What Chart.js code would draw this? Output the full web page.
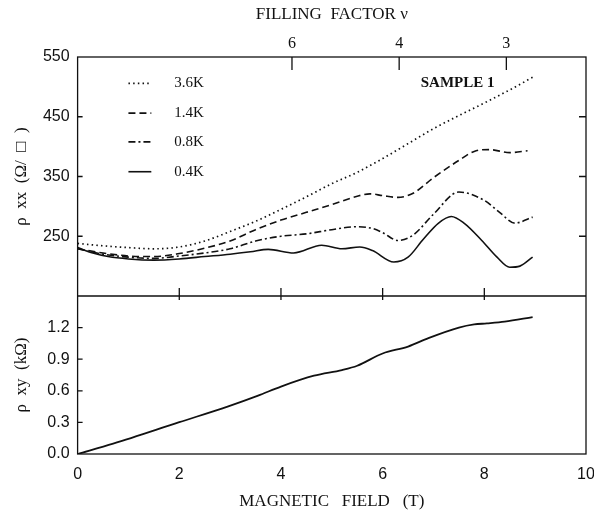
<!DOCTYPE html>
<html>
<head>
<meta charset="utf-8">
<script src="https://cdn.jsdelivr.net/npm/chart.js@4.4.0/dist/chart.umd.min.js"></script>
<style>
  body { margin: 0; background: #fff; }
  #wrap { width: 594px; height: 516px; }
</style>
</head>
<body>
<div id="wrap"><canvas id="chart" width="594" height="516"></canvas></div>
<script>
// rho_xx traces, magnetic field (T) and resistance (ohm/square)
const field36 = [0, 0.5, 1.0, 1.5, 2.0, 2.5, 3.0, 3.5, 4.0, 4.5, 5.0, 5.5, 6.0, 6.5, 7.0, 7.5, 8.0, 8.5, 8.95];
const rho36   = [238, 234, 231, 229, 232, 242, 258, 275, 295, 316, 338, 357, 380, 405, 430, 452, 473, 495, 516];

const field14 = [0, 0.5, 1.0, 1.5, 2.0, 2.5, 3.0, 3.5, 4.0, 4.5, 5.0, 5.5, 5.75, 6.0, 6.3, 6.6, 7.0, 7.5, 7.8, 8.1, 8.5, 8.85];
const rho14   = [229, 222, 217, 216, 221, 230, 242, 261, 277, 290, 303, 317, 321, 318, 315, 322, 348, 377, 392, 395, 390, 393];

const field08 = [0, 0.5, 1.0, 1.5, 2.0, 2.5, 3.0, 3.5, 4.0, 4.5, 5.0, 5.5, 5.8, 6.0, 6.3, 6.6, 7.0, 7.5, 8.0, 8.3, 8.6, 8.95];
const rho08   = [229, 220, 215, 213, 217, 222, 229, 242, 250, 254, 261, 266, 263, 256, 243, 252, 287, 324, 310, 290, 272, 282];

const field04 = [0, 0.3, 0.6, 1.0, 1.5, 2.0, 2.5, 3.0, 3.4, 3.75, 4.25, 4.8, 5.2, 5.55, 5.8, 6.22, 6.5, 6.8, 7.1, 7.35, 7.6, 7.95, 8.25, 8.5, 8.7, 8.95];
const rho04   = [231, 222, 216, 212, 210, 212, 216, 220, 224, 228, 222, 235, 229, 232, 226, 207, 215, 245, 272, 283, 272, 243, 215, 198, 200, 215];

// rho_xy (kohm)
const fieldXY = [0, 0.7, 2.0, 2.95, 3.55, 4.0, 4.65, 5.2, 5.5, 6.0, 6.5, 6.9, 7.5, 7.8, 8.05, 8.4, 8.95];
const rhoXY   = [0, 0.098, 0.302, 0.45, 0.554, 0.64, 0.743, 0.797, 0.838, 0.954, 1.02, 1.10, 1.2, 1.23, 1.24, 1.257, 1.30];

const tempLabels = ['3.6K', '1.4K', '0.8K', '0.4K'];
const fieldTicks = [0, 2, 4, 6, 8, 10];
const rhoxxTicks = [250, 350, 450, 550];
const rhoxyTicks = [0.0, 0.3, 0.6, 0.9, 1.2];
const nuTicks = [6, 4, 3];
const nuField = 25.3;   // B * nu

const serif = "'Liberation Serif', 'DejaVu Serif', serif";
const sans = "'Liberation Sans', Arial, sans-serif";
const ink = '#111';

function pts(xs, ys) {
  return xs.map((x, i) => ({ x: x, y: ys[i] }));
}

const dashes = [[1.5, 3.2], [7, 4], [7, 3, 2, 3], []];
const noGrid = { display: false, drawTicks: false, tickLength: 0 };

const frame = {
  id: 'frame',
  afterDatasetsDraw(chart) {
    const ctx = chart.ctx;
    const a = chart.chartArea;
    const x = chart.scales.x;
    const yt = chart.scales.yTop;
    const yb = chart.scales.yBot;
    const mid = yt.bottom;
    ctx.save();
    ctx.strokeStyle = ink;
    ctx.lineWidth = 1.3;
    ctx.setLineDash([]);
    ctx.strokeRect(a.left, a.top, a.right - a.left, a.bottom - a.top);
    ctx.beginPath();
    ctx.moveTo(a.left, mid); ctx.lineTo(a.right, mid);
    // y ticks, inside
    rhoxxTicks.slice(0, 3).forEach(v => {
      const p = yt.getPixelForValue(v);
      ctx.moveTo(a.left, p); ctx.lineTo(a.left + 5, p);
      ctx.moveTo(a.right, p); ctx.lineTo(a.right - 7, p);
    });
    rhoxyTicks.slice(1).forEach(v => {
      const p = yb.getPixelForValue(v);
      ctx.moveTo(a.left, p); ctx.lineTo(a.left + 5, p);
    });
    // field ticks on the divider
    fieldTicks.slice(1, 5).forEach(v => {
      const p = x.getPixelForValue(v);
      ctx.moveTo(p, mid - 8); ctx.lineTo(p, mid + 4);
    });
    // filling factor ticks
    nuTicks.forEach(n => {
      const p = x.getPixelForValue(nuField / n);
      ctx.moveTo(p, a.top); ctx.lineTo(p, a.top + 13);
    });
    ctx.stroke();

    // legend
    ctx.fillStyle = ink;
    ctx.font = '15px ' + serif;
    ctx.textBaseline = 'middle';
    const legVals = [506, 456, 408, 358];
    chart.data.datasets.slice(0, 4).forEach((ds, i) => {
      const py = yt.getPixelForValue(legVals[i]);
      ctx.beginPath();
      ctx.lineWidth = ds.borderWidth;
      ctx.setLineDash(ds.borderDash);
      ctx.moveTo(x.getPixelForValue(1.0), py);
      ctx.lineTo(x.getPixelForValue(1.45), py);
      ctx.stroke();
      ctx.fillText(ds.label, x.getPixelForValue(1.9), py);
    });
    ctx.setLineDash([]);
    ctx.font = 'bold 15px ' + serif;
    ctx.textAlign = 'right';
    ctx.fillText('SAMPLE 1', x.getPixelForValue(8.2), yt.getPixelForValue(506));
    ctx.restore();
  }
};

const topSets = [rho36, rho14, rho08, rho04].map((ys, i) => ({
  label: tempLabels[i],
  data: pts([field36, field14, field08, field04][i], ys),
  yAxisID: 'yTop',
  borderColor: ink,
  borderWidth: i === 0 ? 1.7 : 1.6,
  borderDash: dashes[i],
  pointRadius: 0,
  cubicInterpolationMode: 'monotone',
  fill: false
}));

new Chart(document.getElementById('chart'), {
  type: 'line',
  data: {
    datasets: topSets.concat([{
      label: 'rho_xy',
      data: pts(fieldXY, rhoXY),
      yAxisID: 'yBot',
      borderColor: ink,
      borderWidth: 1.8,
      borderDash: [],
      pointRadius: 0,
      cubicInterpolationMode: 'monotone',
      fill: false
    }])
  },
  options: {
    responsive: false,
    animation: false,
    layout: { padding: { right: 8 } },
    plugins: { legend: { display: false }, tooltip: { enabled: false } },
    scales: {
      x: {
        type: 'linear', position: 'bottom', min: 0, max: 10,
        afterBuildTicks: s => { s.ticks = fieldTicks.map(v => ({ value: v })); },
        ticks: { color: ink, font: { family: sans, size: 16 }, padding: 11, maxRotation: 0 },
        grid: noGrid, border: { display: false },
        title: { display: true, text: 'MAGNETIC   FIELD   (T)', color: ink,
                 font: { family: serif, size: 17 }, padding: { bottom: 4 } },
        afterFit: s => { s.height = 62; s.paddingLeft = 0; s.paddingRight = 0; }
      },
      nu: {
        type: 'linear', position: 'top', min: 0, max: 10,
        afterBuildTicks: s => { s.ticks = nuTicks.map(n => ({ value: nuField / n })); },
        ticks: { color: ink, font: { family: serif, size: 16 }, padding: 4, maxRotation: 0,
                 callback: (v, i) => nuTicks[i] },
        grid: noGrid, border: { display: false },
        title: { display: true, text: 'FILLING  FACTOR \u03BD', color: ink,
                 font: { family: serif, size: 17 }, padding: { top: 4 } },
        afterFit: s => { s.height = 57; s.paddingLeft = 0; s.paddingRight = 0; }
      },
      yBot: {
        type: 'linear', position: 'left', stack: 'rho', stackWeight: 158,
        min: 0, max: 1.5,
        afterBuildTicks: s => { s.ticks = rhoxyTicks.map(v => ({ value: v })); },
        ticks: { color: ink, font: { family: sans, size: 16 }, padding: 8,
                 callback: v => v.toFixed(1) },
        grid: noGrid, border: { display: false },
        title: { display: true, text: '\u03C1  xy  (k\u03A9)', color: ink,
                 font: { family: serif, size: 17 }, padding: { top: 11 } },
        afterFit: s => { s.width = 77.6; }
      },
      yTop: {
        type: 'linear', position: 'left', stack: 'rho', stackWeight: 239,
        min: 150, max: 550,
        afterBuildTicks: s => { s.ticks = rhoxxTicks.map(v => ({ value: v })); },
        ticks: { color: ink, font: { family: sans, size: 16 }, padding: 8 },
        grid: noGrid, border: { display: false },
        title: { display: true, text: '\u03C1  xx  (\u03A9/  \u25A1  )', color: ink,
                 font: { family: serif, size: 17 }, padding: { top: 11 } },
        afterFit: s => { s.width = 77.6; }
      }
    }
  },
  plugins: [frame]
});
</script>
</body>
</html>
